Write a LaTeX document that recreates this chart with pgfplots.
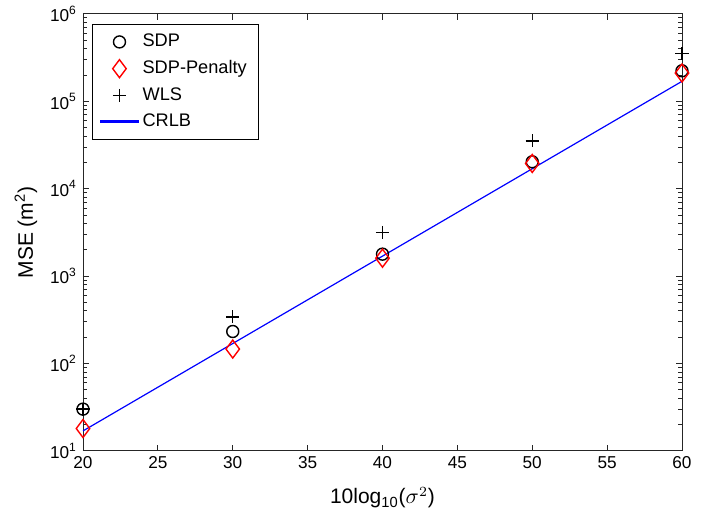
\documentclass[border=0pt]{standalone}
\usepackage{pgfplots}
\pgfplotsset{compat=1.18}
\usepackage{fontspec}
\setmainfont{Liberation Sans}
\begin{document}
\fontsize{8.6}{10}\selectfont
\begin{tikzpicture}[x=0.5pt,y=0.5pt]
\begin{axis}[
    scale only axis,
    width=299.5pt, height=218.5pt,
    at={(0,0)}, anchor=south west,
    xmin=20, xmax=60,
    ymode=log, ymin=10, ymax=1e6,
    xtick={20,25,...,60},
    ytick={10,100,1000,10000,100000,1000000},
    yticklabels={10\textsuperscript{1},10\textsuperscript{2},10\textsuperscript{3},10\textsuperscript{4},10\textsuperscript{5},10\textsuperscript{6}},
    /pgf/number format/assume math mode=true,
    tick align=inside,
    major tick length=3pt, minor tick length=1.8pt,
    axis line style={black!85, line width=0.4pt},
    every tick/.style={black!85, line width=0.4pt},
    tick label style={font=\fontsize{8.6}{10}\selectfont},
    xlabel={10log\textsubscript{10}($\sigma^2$)},
    ylabel={MSE (m\textsuperscript{2})},
    label style={font=\fontsize{10.5}{12}\selectfont},
    xlabel style={yshift=-3pt},
    ylabel style={yshift=0.5pt},
    legend cell align=left,
    legend style={at={(0.015,0.977)}, anchor=north west,
        font=\fontsize{9.1}{10}\selectfont,
        row sep=1.6pt, inner xsep=4pt, inner ysep=3pt},
    legend image code/.code={\draw[mark repeat=2,mark phase=2,#1] plot coordinates {(0pt,0pt) (9.25pt,0pt) (18.5pt,0pt)};},
]
\addplot[only marks, mark=o, mark size=3pt, black, line width=0.7pt]
    coordinates {(20,30) (30,232) (40,1780) (50,20300) (60,223000)};
\addplot[only marks, mark=diamond, mark size=4.5pt, red, line width=0.7pt]
    coordinates {(20,18) (30,146) (40,1600) (50,19400) (60,210000)};
\addplot[only marks, mark=+, mark size=3.3pt, black, line width=0.7pt]
    coordinates {(20,30) (30,341) (40,3150) (50,35200) (60,350000)};
\addplot[blue, line width=0.6pt, mark=none,
    legend image code/.code={\fill[fill=blue] (0pt,-0.4pt) rectangle (18.5pt,0.4pt);}]
    coordinates {(20,16.9) (30,169) (40,1690) (50,16900) (60,169000)};
\legend{SDP, SDP-Penalty, WLS, CRLB}
\end{axis}
\path[use as bounding box] (-83,-75) rectangle (637,450);
\end{tikzpicture}
\end{document}
